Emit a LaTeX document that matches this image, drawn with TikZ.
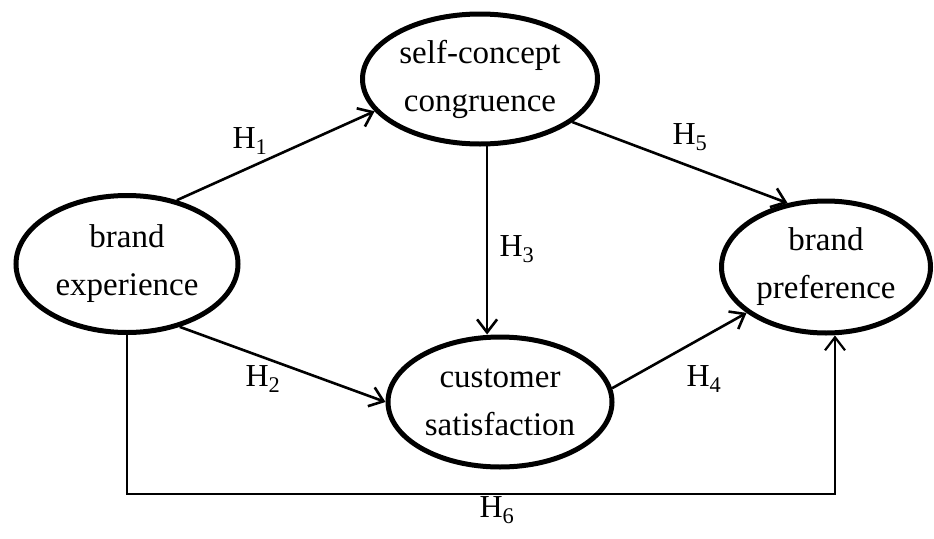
\documentclass[tikz,border=0pt]{standalone}
\usepackage{fontspec}
\setmainfont{Liberation Serif}
\usetikzlibrary{shapes.geometric,arrows.meta}
\begin{document}
\begin{tikzpicture}[x=1pt, y=-1pt, >={Straight Barb[length=13pt,width=20pt]},
  construct/.style={ellipse, draw, line width=5pt, inner sep=0pt, align=center,
    font=\fontsize{33}{48}\selectfont},
  link/.style={->, line width=2.6pt},
  hyp/.style={font=\fontsize{32}{36}\selectfont}]
  \useasboundingbox (0,0) rectangle (934,538);

  % Konstrukte
  \node[construct, minimum width=222pt, minimum height=137pt] (be) at (127,264) {brand\\experience};
  \node[construct, minimum width=235pt, minimum height=130pt] (sc) at (480,79) {self-concept\\congruence};
  \node[construct, minimum width=224pt, minimum height=130pt] (cs) at (500,402) {customer\\satisfaction};
  \node[construct, minimum width=209pt, minimum height=132pt] (bp) at (826,267) {brand\\preference};

  % Pfade
  \draw[link] (be.52) -- (sc.197);
  \draw[link] (be.-50) -- (cs.west);
  \draw[link] (sc.-84) -- (sc.-84 |- cs.north);
  \draw[link] (cs.7) -- (bp.210);
  \draw[link] (sc.-25) -- (bp.121);
  \coordinate (turn) at (835,494);
  \draw[link, line width=2.2pt] (be.south) |- (turn) -- (bp.south -| turn);

  % Hypothesen
  \node[hyp] (h1) at (250,141) {H\textsubscript{1}};
  \node[hyp] (h2) at (263,379) {H\textsubscript{2}};
  \node[hyp] (h3) at (517,249) {H\textsubscript{3}};
  \node[hyp] (h4) at (704,379) {H\textsubscript{4}};
  \node[hyp] (h5) at (690,137) {H\textsubscript{5}};
  \node[hyp] (h6) at (497,510) {H\textsubscript{6}};
\end{tikzpicture}
\end{document}
